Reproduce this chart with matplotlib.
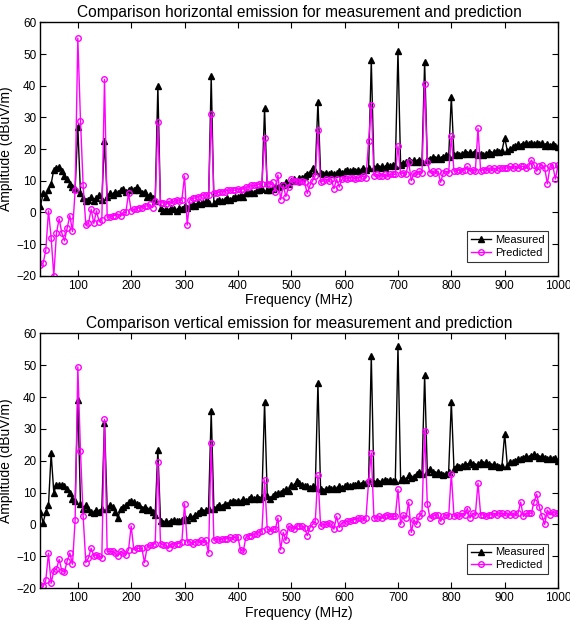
import numpy as np
import matplotlib
matplotlib.use('Agg')
import matplotlib.pyplot as plt

plt.rcParams['font.family'] = ['Liberation Sans', 'DejaVu Sans']

# frequency grid, 5 MHz steps from 30 to 1000 MHz
freq = np.arange(30, 1001, 5)

# horizontal emission, rows: 30-45, then 50-95, 100-145, ... 950-995, then 1000
meas_h = [2, 6, 5, 7,
          9, 13.5, 14, 14.3, 13, 11.5, 10.5, 9, 8, 7.5,
          27, 6, 4.5, 3.5, 4, 5, 3.5, 4.5, 5.5, 4,
          22.5, 5, 6, 5.5, 6.5, 6, 7, 7.5, 6.5, 7,
          7.5, 7, 8, 7, 6, 6.5, 5, 5.5, 4.5, 3.5,
          40, 1.5, 0.5, 1, 0.5, 1.5, 1, 0.5, 1.5, 1,
          2, 1.5, 2, 2.5, 2, 3, 2.5, 3, 3.5, 3,
          43, 3, 3.5, 4, 3.5, 4, 4.5, 4, 4.5, 5,
          5, 5.5, 5, 6, 6, 6.5, 6, 7, 7, 7.5,
          33, 7, 7, 7.5, 8, 8, 8.5, 8.5, 9.5, 9,
          10, 10.5, 10, 11, 11, 11.5, 12, 12.5, 14, 13,
          35, 12.5, 12, 12.5, 12, 12.5, 12, 12.5, 13, 12.5,
          13, 13.5, 13, 13.5, 13, 13.5, 13, 14, 13.5, 14,
          48, 14, 14.5, 14, 14.5, 14, 15, 14.5, 15, 14.5,
          51, 15, 15.5, 16, 16.5, 16, 16.5, 16, 16.5, 16,
          47.5, 16.5, 17, 17.5, 17, 17.5, 17, 17.5, 18, 17.5,
          36.5, 18, 18.5, 18, 18.5, 19, 18.5, 19, 18.5, 19,
          18, 18.5, 18, 18.5, 19, 18.5, 19, 19.5, 19, 19.5,
          23.5, 19.5, 20, 20.5, 21, 21.5, 21, 21.5, 22, 21.5,
          22, 21.5, 22, 21.5, 22, 21, 21.5, 21, 21.5, 21,
          20.5]

pred_h = [-16.5, -16, -12, 0.5,
          -8, -20, -6.5, -2, -6.5, -9, -5, -1, -6, 7,
          55, 29, 8.5, -4, -3.5, 1, -3.5, 0.5, -3, -2.5,
          42, -1.5, -1.5, -1, -1, -0.5, -1, 0, 0, 6,
          0.5, 1, 1, 1.5, 1.5, 2, 2, 2.5, 1.5, 3.5,
          28.5, 3, 3, 2.5, 3.5, 3, 3.5, 4, 3.5, 4,
          11.5, -4, 4, 4.5, 4.5, 5, 5, 5.5, 5.5, 5.5,
          31, 6, 6, 6.5, 6.5, 6.5, 7, 7, 7, 7,
          7.5, 7, 7.5, 8, 8, 8.5, 8.5, 8.5, 9, 9,
          23.5, 9, 9, 9.5, 6.5, 11.8, 4, 8.5, 5, 8,
          10.5, 10, 10, 9.5, 10, 9.5, 6, 8.5, 10, 11.5,
          26, 9.5, 10, 10.5, 10, 10.5, 7.5, 10.5, 8, 10.5,
          11, 10.5, 11, 11, 10.5, 11, 11, 11.5, 11, 22.5,
          34, 11.5, 12, 11.5, 11.5, 12, 11.5, 12, 12, 12,
          21, 12, 12.5, 12, 16, 10, 12.5, 12, 13, 12.5,
          40.5, 16, 12.5, 13, 12.5, 13, 9.5, 12.5, 13, 12.5,
          24, 13, 13, 13.5, 13, 13.5, 14.5, 13, 13.5, 13,
          26.5, 13, 13.5, 13.5, 14, 13.5, 14, 13.5, 14, 14,
          14, 14, 14.5, 14, 14.5, 14, 14.5, 14.5, 14, 14.5,
          16.5, 15, 13, 14.5, 15, 14, 9, 14.5, 15, 10.5,
          15]

# vertical emission
meas_v = [4, 0.5, 4, 6,
          22.3, 10, 12.5, 12.5, 12.5, 12, 11, 10, 8, 7.5,
          39, 6.5, 5, 6, 5, 4, 3.5, 4.5, 4, 5,
          32, 5, 6, 5.5, 4, 2, 5, 5.5, 6, 7,
          7.5, 7, 6.5, 6, 5, 5.5, 4.5, 5, 4, 3,
          23.5, 1, 0.5, 1, 0.5, 1, 1.5, 1, 1, 1.5,
          2, 1.5, 2.5, 2, 3, 3.5, 4.5, 4, 4.5, 5,
          35.5, 5, 5.5, 6, 5.5, 6.5, 6, 7, 7.5, 7,
          7.5, 7, 8, 7.5, 8, 8.5, 8, 8.5, 8, 8.5,
          38.5, 9, 8, 9, 9.5, 10, 10, 10.5, 11, 10.5,
          12.5, 12, 13.5, 13, 12.5, 12, 12, 11.5, 12, 11.5,
          44.5, 11, 10.5, 11, 11.5, 11, 11.5, 11, 12, 11.5,
          12, 12.5, 12, 12.5, 12.5, 13, 12.5, 13, 13, 13.5,
          53, 13, 13.5, 13, 13.5, 14, 13.5, 14, 13.5, 13.5,
          56, 14, 14.5, 14, 15.5, 14.5, 15, 16, 16.5, 16,
          47, 16.5, 17.5, 16.5, 16, 16.5, 16, 15.5, 16, 16.5,
          38.5, 17.5, 18.5, 18, 18.5, 19, 18.5, 19.5, 19, 18.5,
          19, 19.5, 19, 19.5, 19, 18.5, 19, 18.5, 18, 18.5,
          28.5, 18.5, 19.5, 19.5, 20, 20.5, 20.5, 21, 21.5, 21,
          21.5, 22, 21.5, 21, 21.5, 21, 20.5, 21, 20.5, 21,
          20]

pred_v = [-19, -19.5, -17.5, -9,
          -18.5, -14.5, -14, -11, -14.5, -15, -11.5, -9, -12.5, 1.5,
          49.5, 23, 2.5, -12, -10.5, -7.5, -10, -9.5, -10, -10.5,
          33, -8.5, -8.5, -8.5, -9, -10, -8.5, -9, -9.5, -8,
          -0.5, -8, -7.5, -7.5, -7.5, -12, -7, -6.5, -6.5, -6,
          19.5, -6, -6.5, -6.5, -7.5, -6, -6.5, -6, -6, -5.5,
          6.5, -5.5, -5.5, -6, -5.5, -5.5, -5, -5.5, -5, -9,
          25.5, -5, -4.5, -5, -4.5, -4.5, -4.5, -4, -4.5, -4,
          -4, -8, -8.5, -4, -3.5, -3.5, -3, -3, -2.5, -2,
          14, -1.5, -2, -1.5, -1.5, 2, -8, -2.5, -5, -0.5,
          -1, -1.5, -0.5, -0.5, -0.5, -1, -3.5, -1, 0, 1,
          15.5, -0.5, 0, 0, 0.5, 0, -1.5, 2.5, -1, 0.5,
          0.5, 1, 1, 1.5, 1.5, 2, 2, 1.5, 2, 13.5,
          22.5, 2, 2, 2.5, 2, 2.5, 3, 2.5, 2.5, 2.5,
          11, 0, 3, 2, 7, -2.5, 1.5, 0, 2.5, 3.5,
          29.5, 6.5, 2, 2.5, 3, 3, 1, 2.5, 3, 2.5,
          16, 2.5, 3, 2.5, 3.5, 3, 5, 2, 3.5, 3,
          13, 3, 3, 2.5, 3, 3, 3.5, 3, 3.5, 3.5,
          3, 3.5, 3, 3.5, 3, 3.5, 7, 2.5, 3.5, 3.5,
          3.5, 7, 9.5, 5.5, 2.5, 0, 4.5, 3, 4, 3.5,
          3.5]

titles = ['Comparison horizontal emission for measurement and prediction',
          'Comparison vertical emission for measurement and prediction']

fig = plt.figure(figsize=(5.7, 6.21), dpi=100)
ax1 = fig.add_axes([0.071, 0.556, 0.908, 0.408])
ax2 = fig.add_axes([0.071, 0.053, 0.908, 0.410])

for ax, meas, pred, title in [(ax1, meas_h, pred_h, titles[0]),
                              (ax2, meas_v, pred_v, titles[1])]:
    ax.plot(freq, meas, color='black', lw=1.0, marker='^', ms=5,
            mfc='black', mec='black', label='Measured')
    ax.plot(freq, pred, color='#ff00ff', lw=1.0, marker='o', ms=4,
            mfc='none', mec='#ff00ff', mew=1.0, label='Predicted')
    ax.set_xlim(30, 1000)
    ax.set_ylim(-20, 60)
    ax.set_xticks(np.arange(100, 1001, 100))
    ax.set_yticks(np.arange(-20, 61, 10))
    ax.tick_params(direction='in', top=True, right=True, labelsize=8.5,
                   length=4, width=0.8, pad=3)
    for s in ax.spines.values():
        s.set_linewidth(1.0)
    ax.set_title(title, fontsize=11.2, pad=4)
    ax.set_xlabel('Frequency (MHz)', fontsize=10, labelpad=1)
    ax.set_ylabel('Amplitude (dBuV/m)', fontsize=10, labelpad=2)
    leg = ax.legend(loc='lower right', bbox_to_anchor=(0.981, 0.055),
                    fontsize=8, frameon=True, fancybox=False,
                    edgecolor='black', handlelength=1.8, borderpad=0.35,
                    labelspacing=0.25, handletextpad=0.3, borderaxespad=0)
    leg.get_frame().set_linewidth(0.8)

fig.savefig('out.png', dpi=100)
